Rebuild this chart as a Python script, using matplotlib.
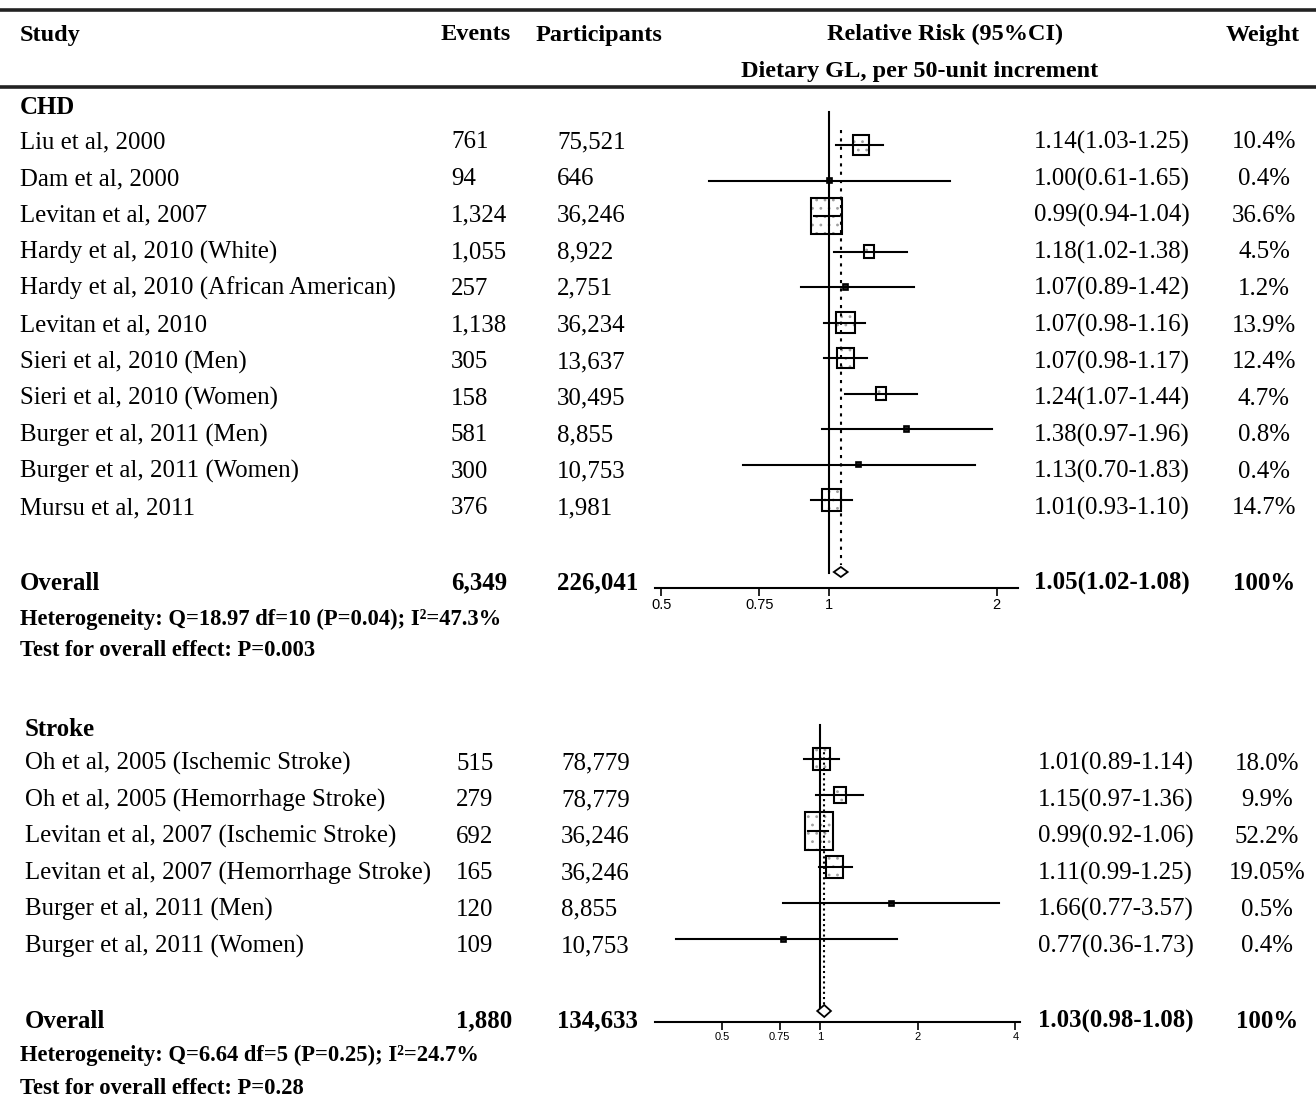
import matplotlib.pyplot as plt
from matplotlib.patches import Rectangle, Polygon
from matplotlib.transforms import ScaledTranslation
from matplotlib.ticker import NullLocator
import numpy as np

plt.rcParams['font.family'] = ['Liberation Serif', 'DejaVu Serif']
plt.rcParams['hatch.linewidth'] = 0.8

# CHD studies
chd_studies = ['Liu et al, 2000', 'Dam et al, 2000', 'Levitan et al, 2007',
               'Hardy et al, 2010 (White)', 'Hardy et al, 2010 (African American)',
               'Levitan et al, 2010', 'Sieri et al, 2010 (Men)', 'Sieri et al, 2010 (Women)',
               'Burger et al, 2011 (Men)', 'Burger et al, 2011 (Women)', 'Mursu et al, 2011']
chd_events = [761, 94, 1324, 1055, 257, 1138, 305, 158, 581, 300, 376]
chd_participants = [75521, 646, 36246, 8922, 2751, 36234, 13637, 30495, 8855, 10753, 1981]
chd_rr = [1.14, 1.00, 0.99, 1.18, 1.07, 1.07, 1.07, 1.24, 1.38, 1.13, 1.01]
chd_lo = [1.03, 0.61, 0.94, 1.02, 0.89, 0.98, 0.98, 1.07, 0.97, 0.70, 0.93]
chd_hi = [1.25, 1.65, 1.04, 1.38, 1.42, 1.16, 1.17, 1.44, 1.96, 1.83, 1.10]
chd_weight = ['10.4', '0.4', '36.6', '4.5', '1.2', '13.9', '12.4', '4.7', '0.8', '0.4', '14.7']
chd_overall = [1.05, 1.02, 1.08]
chd_total = [6349, 226041]
chd_het = 'Heterogeneity: Q=18.97 df=10 (P=0.04); I\u00b2=47.3%'
chd_test = 'Test for overall effect: P=0.003'

# Stroke studies
st_studies = ['Oh et al, 2005 (Ischemic Stroke)', 'Oh et al, 2005 (Hemorrhage Stroke)',
              'Levitan et al, 2007 (Ischemic Stroke)', 'Levitan et al, 2007 (Hemorrhage Stroke)',
              'Burger et al, 2011 (Men)', 'Burger et al, 2011 (Women)']
st_events = [515, 279, 692, 165, 120, 109]
st_participants = [78779, 78779, 36246, 36246, 8855, 10753]
st_rr = [1.01, 1.15, 0.99, 1.11, 1.66, 0.77]
st_lo = [0.89, 0.97, 0.92, 0.99, 0.77, 0.36]
st_hi = [1.14, 1.36, 1.06, 1.25, 3.57, 1.73]
st_weight = ['18.0', '9.9', '52.2', '19.05', '0.5', '0.4']
st_overall = [1.03, 0.98, 1.08]
st_total = [1880, 134633]
st_het = 'Heterogeneity: Q=6.64 df=5 (P=0.25); I\u00b2=24.7%'
st_test = 'Test for overall effect: P=0.28'

W, H = 1316, 1105
fig = plt.figure(figsize=(W / 100, H / 100), dpi=100)

# text layer in pixel units
tx = fig.add_axes([0, 0, 1, 1])
tx.set_xlim(0, W)
tx.set_ylim(H, 0)
tx.axis('off')

FS = 17.9
BL = 8.5   # baseline sits this far below a row's mid-line
tx.plot([0, W], [10, 10], color='#222222', lw=2.6)
tx.plot([0, W], [87, 87], color='#222222', lw=2.6)
hdr = dict(fontsize=17.5, fontweight='bold', va='baseline')
tx.text(20, 32 + BL, 'Study', ha='left', **hdr)
tx.text(441, 32 + BL, 'Events', ha='left', **hdr)
tx.text(536, 32 + BL, 'Participants', ha='left', **hdr)
tx.text(945, 32 + BL, 'Relative Risk (95%CI)', ha='center', **hdr)
tx.text(1263, 32 + BL, 'Weight', ha='center', **hdr)
tx.text(920, 68 + BL, 'Dietary GL, per 50-unit increment', ha='center', **hdr)


def table(title, title_y, studies, events, parts, rr, lo, hi, wt, overall, total,
          het, test, x0, y0, step, y_over, y_het, y_test, xev, xpart, xpart_tot, xrr, xwt):
    tx.text(x0, title_y + BL, title, fontsize=FS, fontweight='bold', va='baseline')
    for i, name in enumerate(studies):
        y = y0 + i * step + BL
        tx.text(x0, y, name, fontsize=FS, va='baseline')
        tx.text(xev, y, f'{events[i]:,}', fontsize=FS, va='baseline')
        tx.text(xpart, y, f'{parts[i]:,}', fontsize=FS, va='baseline')
        tx.text(xrr, y, f'{rr[i]:.2f}({lo[i]:.2f}-{hi[i]:.2f})', fontsize=FS, va='baseline')
        tx.text(xwt, y, wt[i] + '%', fontsize=FS, va='baseline', ha='center')
    b = dict(fontsize=FS, fontweight='bold', va='baseline')
    yo = y_over + BL
    tx.text(x0, yo, 'Overall', **b)
    tx.text(xev, yo, f'{total[0]:,}', **b)
    tx.text(xpart_tot, yo, f'{total[1]:,}', **b)
    tx.text(xrr, yo, f'{overall[0]:.2f}({overall[1]:.2f}-{overall[2]:.2f})', **b)
    tx.text(xwt, yo, '100%', ha='center', **b)
    tx.text(20, y_het + 7.5, het, fontsize=16.3, fontweight='bold', va='baseline')
    tx.text(20, y_test + 7.5, test, fontsize=16.3, fontweight='bold', va='baseline')


table('CHD', 105, chd_studies, chd_events, chd_participants, chd_rr, chd_lo, chd_hi,
      chd_weight, chd_overall, chd_total, chd_het, chd_test,
      20, 140, 36.6, 581, 617, 649, 451, 557, 557, 1034, 1264)
table('Stroke', 727, st_studies, st_events, st_participants, st_rr, st_lo, st_hi,
      st_weight, st_overall, st_total, st_het, st_test,
      25, 761, 36.6, 1019, 1053, 1087, 456, 561, 557, 1038, 1267)


def forest(left, right, top, bottom, xlim, rr, lo, hi, wt, overall, row0, step,
           y_dia, dia_h, kw, kh, ref_span, dot_span, dash, ticks, ticklab, tfs):
    ax = fig.add_axes([left / W, 1 - bottom / H, (right - left) / W, (bottom - top) / H])
    ax.patch.set_alpha(0)
    ax.set_xscale('log')
    for s in ['top', 'left', 'right']:
        ax.spines[s].set_visible(False)
    ax.spines['bottom'].set_linewidth(1.5)
    ax.set_yticks([])
    ax.set_xticks(ticks)
    ax.set_xticklabels(ticklab, fontfamily='Liberation Sans', fontsize=tfs)
    ax.xaxis.set_minor_locator(NullLocator())
    ax.tick_params(axis='x', direction='out', length=6, width=1.2, pad=1)

    # line of no effect and pooled estimate
    ax.plot([1, 1], ref_span, color='black', lw=1.5, zorder=6)
    ax.plot([overall[0]] * 2, dot_span, color='black', lw=1.5, linestyle=dash, zorder=6)

    for i in range(len(rr)):
        y = row0 + i * step
        ax.plot([lo[i], hi[i]], [y, y], color='black', lw=1.5, zorder=5)
        w = max(kw * np.sqrt(float(wt[i])), 5) / 100
        h = max(kh * np.sqrt(float(wt[i])), 5) / 100
        tr = fig.dpi_scale_trans + ScaledTranslation(rr[i], y, ax.transData)
        if h * 100 < 8:
            ax.add_patch(Rectangle((-w / 2, -h / 2), w, h, transform=tr,
                                   facecolor='#222222', edgecolor='black', lw=1.2, zorder=4))
        else:
            ax.add_patch(Rectangle((-w / 2, -h / 2), w, h, transform=tr, facecolor='white',
                                   edgecolor='#a0a0a0', hatch='..', lw=0, zorder=3))
            ax.add_patch(Rectangle((-w / 2, -h / 2), w, h, transform=tr, fill=False,
                                   edgecolor='black', lw=1.5, zorder=4))

    ax.add_patch(Polygon([[overall[1], y_dia], [overall[0], y_dia - dia_h / 2],
                          [overall[2], y_dia], [overall[0], y_dia + dia_h / 2]],
                         closed=True, facecolor='white', edgecolor='black', lw=1.3, zorder=7))
    ax.set_xlim(*xlim)
    ax.set_ylim(bottom, top)
    return ax


forest(655, 1018, 100, 588, (0.487, 2.184), chd_rr, chd_lo, chd_hi, chd_weight,
       chd_overall, 145, 35.5, 572, 10, 5.0, 5.9, (112, 573), (130, 565),
       (0, (1.5, 2.5)), [0.5, 0.75, 1, 2], ['0.5', '0.75', '1', '2'], 10.5)
forest(655, 1020, 715, 1022, (0.310, 4.13), st_rr, st_lo, st_hi, st_weight,
       st_overall, 759, 36, 1011, 12, 3.9, 5.2, (725, 1013), (747, 1008),
       (0, (1, 1.5)), [0.5, 0.75, 1, 2, 4], ['0.5', '0.75', '1', '2', '4'], 8)

fig.savefig('out.png', dpi=100)
